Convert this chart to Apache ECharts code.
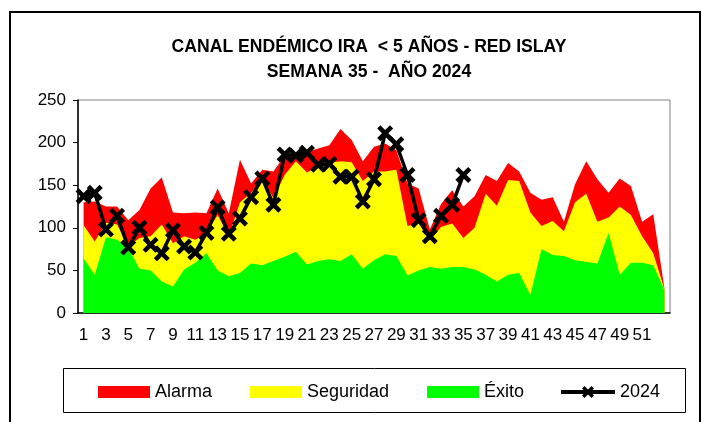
<!DOCTYPE html>
<html>
<head>
<meta charset="utf-8">
<script src="https://cdn.jsdelivr.net/npm/echarts@6/dist/echarts.min.js"></script>
<style>
html,body{margin:0;padding:0;background:#fff;}
#chart{width:702px;height:422px;}
</style>
</head>
<body>
<div id="chart"></div>
<script>
// semanas epidemiologicas
var semanas = ['1','2','3','4','5','6','7','8','9','10','11','12','13','14','15','16','17','18','19','20',
	'21','22','23','24','25','26','27','28','29','30','31','32','33','34','35','36','37','38','39','40',
	'41','42','43','44','45','46','47','48','49','50','51','52','53'];

// limites del canal endemico
var alarma = [130,131,125,125,109,121,146,159,118,117,118,117,146,117,180,152,168,166,185,185,
	189,193,197,216,203,178,195,199,191,152,146,98,128,144,125,137,162,155,176,166,
	141,133,136,107,151,178,157,141,158,149,107,116,29];
var seguridad = [103,84,106,104,78,88,90,104,82,90,86,94,115,90,130,141,158,135,162,178,
	165,172,176,178,177,155,166,166,168,102,105,85,101,105,88,100,140,126,156,155,
	118,102,108,96,130,140,107,112,125,115,90,70,28];
var exito = [64,45,89,86,76,52,50,37,31,51,59,70,50,43,47,58,56,61,66,72,
	57,61,63,61,69,52,62,69,67,44,50,54,52,54,54,51,45,37,45,47,
	21,75,68,67,62,60,58,94,45,59,59,56,27];

// casos 2024 hasta la semana 35
var casos2024 = [137,141,98,114,77,100,80,70,97,78,71,94,124,93,111,136,158,127,186,185,
	188,174,175,160,160,131,157,211,198,162,109,90,114,127,162];

var ticksY = [0,50,100,150,200,250];

var FONT = 'Liberation Sans';
var MARCA_X = 'path://M0,2 L2,0 L5,3 L8,0 L10,2 L7,5 L10,8 L8,10 L5,7 L2,10 L0,8 L3,5 Z';

function area(nombre, datos, color){
	return {
		name: nombre,
		type: 'line',
		data: datos,
		symbol: 'none',
		silent: true,
		color: color,
		lineStyle: {width: 0},
		areaStyle: {color: color, opacity: 1}
	};
}

function leyenda(nombre, x, icono){
	var l = {
		data: [nombre],
		left: x,
		top: 383,
		padding: 0,
		itemWidth: nombre == '2024' ? 54 : 52,
		itemHeight: nombre == '2024' ? 15 : 12,
		textStyle: {fontFamily: FONT, fontSize: 18, color: '#000'},
		selectedMode: false
	};
	if (icono) l.icon = icono;
	else l.lineStyle = {width: 4};
	return l;
}

var myChart = echarts.init(document.getElementById('chart'));
var option = {
	animation: false,
	backgroundColor: '#fff',
	textStyle: {fontFamily: FONT},
	title: {
		text: 'CANAL ENDÉMICO IRA  < 5 AÑOS - RED ISLAY\nSEMANA 35 -  AÑO 2024',
		left: 369,
		top: 35,
		padding: 0,
		textAlign: 'center',
		textStyle: {fontFamily: FONT, fontSize: 17.6, fontWeight: 'bold', color: '#000', lineHeight: 25}
	},
	graphic: [
		{type: 'rect', shape: {x: 10, y: 12, width: 690, height: 430}, style: {fill: null, stroke: '#000', lineWidth: 2}, silent: true, z: -1},
		{type: 'rect', shape: {x: 63.5, y: 368.5, width: 622, height: 44}, style: {fill: null, stroke: '#000', lineWidth: 1}, silent: true}
	],
	legend: [
		leyenda('Alarma', 98, 'rect'),
		leyenda('Seguridad', 250, 'rect'),
		leyenda('Éxito', 427, 'rect'),
		leyenda('2024', 559)
	],
	grid: {
		left: 78, right: 32, top: 100, bottom: 109,
		show: true, borderColor: '#808080', borderWidth: 1,
		outerBoundsMode: 'none'
	},
	xAxis: {
		type: 'category',
		data: semanas,
		boundaryGap: true,
		axisLine: {lineStyle: {color: '#000', width: 1.5}},
		axisTick: {interval: 0, length: 5, lineStyle: {color: '#000'}},
		axisLabel: {
			interval: function(i){ return i % 2 === 0 && i < 52; },
			fontSize: 17, color: '#000', margin: 14
		}
	},
	yAxis: {
		type: 'value',
		min: ticksY[0],
		max: ticksY[ticksY.length - 1],
		interval: 50,
		splitLine: {show: false},
		axisLine: {show: true, lineStyle: {color: '#000', width: 1.5}},
		axisTick: {show: true, length: 5, lineStyle: {color: '#000'}},
		axisLabel: {fontSize: 17, color: '#000', margin: 12}
	},
	series: [
		area('Alarma', alarma, '#ff0000'),
		area('Seguridad', seguridad, '#ffff00'),
		area('Éxito', exito, '#00ff00'),
		{
			name: '2024',
			type: 'line',
			data: casos2024,
			color: '#000',
			symbol: MARCA_X,
			symbolSize: 16,
			showAllSymbol: true,
			itemStyle: {color: '#000'},
			lineStyle: {color: '#000', width: 3.5},
			z: 5
		}
	]
};

myChart.setOption(option);
</script>
</body>
</html>
